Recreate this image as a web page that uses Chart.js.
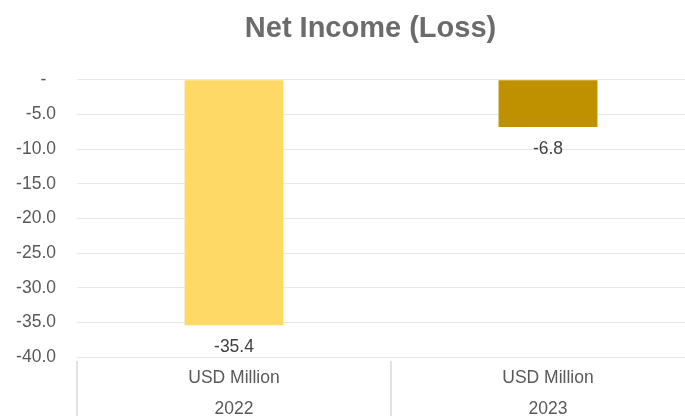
<!DOCTYPE html>
<html>
<head>
<meta charset="utf-8">
<script src="https://cdn.jsdelivr.net/npm/chart.js@4.4.0/dist/chart.umd.min.js"></script>
<style>
  html, body { margin: 0; padding: 0; background: #fff; overflow: hidden; width: 685px; height: 416px; }
</style>
</head>
<body>
<canvas id="chart" width="742" height="431"></canvas>
<script>
// data
const years = ['2022', '2023'];
const unitLabel = 'USD Million';
const netIncome = [-35.4, -6.8];
const barColors = ['#FFD966', '#BF9000'];
const yMin = -40;
const yMax = 0;
const yStep = 5;

const FONT = '"Liberation Sans", Arial, sans-serif';

// vertical dividers under the category axis
const dividerPlugin = {
  id: 'dividers',
  afterDraw(chart) {
    const xs = chart.scales.x;
    const ctx = chart.ctx;
    ctx.save();
    ctx.strokeStyle = '#d9d9d9';
    ctx.lineWidth = 1.5;
    for (let i = 0; i <= years.length; i++) {
      const x = xs.getPixelForValue(i - 0.5);
      ctx.beginPath();
      ctx.moveTo(x, chart.chartArea.bottom + 4);
      ctx.lineTo(x, chart.height);
      ctx.stroke();
    }
    ctx.restore();
  }
};

// value labels under each bar
const valueLabelPlugin = {
  id: 'valueLabels',
  afterDatasetsDraw(chart) {
    const ctx = chart.ctx;
    const meta = chart.getDatasetMeta(0);
    ctx.save();
    ctx.font = '17.5px ' + FONT;
    ctx.fillStyle = '#404040';
    ctx.textAlign = 'center';
    ctx.textBaseline = 'middle';
    meta.data.forEach((bar, i) => {
      ctx.fillText(netIncome[i].toFixed(1), bar.x, bar.y + 22.5);
    });
    ctx.restore();
  }
};

// nudge the title to where it sits in the source
const titleShiftPlugin = {
  id: 'titleShift',
  afterLayout(chart) {
    if (chart.titleBlock) {
      chart.titleBlock.left += 10;
      chart.titleBlock.right += 10;
    }
  }
};

new Chart(document.getElementById('chart'), {
  type: 'bar',
  data: {
    labels: years.map(y => [unitLabel, y]),
    datasets: [{
      data: netIncome,
      backgroundColor: barColors,
      borderWidth: 0,
      categoryPercentage: 1,
      barPercentage: 0.315
    }]
  },
  options: {
    responsive: false,
    animation: false,
    layout: { padding: { left: 16, right: 37, top: 12, bottom: 0 } },
    plugins: {
      legend: { display: false },
      tooltip: { enabled: false },
      title: {
        display: true,
        text: 'Net Income (Loss)',
        color: '#6b6b6b',
        font: { family: FONT, size: 29, weight: 'bold' },
        padding: { top: 0, bottom: 33 }
      }
    },
    scales: {
      x: {
        offset: true,
        border: { display: false },
        grid: { display: false, drawTicks: false },
        ticks: {
          color: '#595959',
          font: { family: FONT, size: 17.5, lineHeight: 1.77 },
          padding: 6,
          maxRotation: 0,
          autoSkip: false
        }
      },
      y: {
        min: yMin,
        max: yMax,
        border: { display: false },
        grid: { color: '#e8e8e8', lineWidth: 1, drawTicks: false },
        afterFit(scale) { scale.width = 61; },
        ticks: {
          stepSize: yStep,
          color: '#595959',
          font: { family: FONT, size: 17.5 },
          padding: 21,
          callback: v => v === 0 ? '-  ' : v.toFixed(1)
        }
      }
    }
  },
  plugins: [dividerPlugin, valueLabelPlugin, titleShiftPlugin]
});
</script>
</body>
</html>
